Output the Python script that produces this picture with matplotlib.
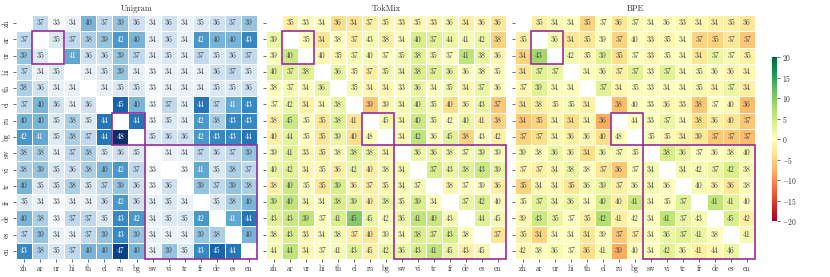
import numpy as np
import matplotlib
matplotlib.use("Agg")
import matplotlib.pyplot as plt
import seaborn as sns
from matplotlib.patches import Rectangle

plt.rcParams['font.family'] = 'serif'
plt.rcParams['font.serif'] = ['cmr10', 'DejaVu Serif']
plt.rcParams['mathtext.fontset'] = 'cm'
plt.rcParams['axes.formatter.use_mathtext'] = True

langs = ["zh", "ar", "ur", "hi", "th", "el", "ru", "bg", "sw", "vi", "tr", "fr", "de", "es", "en"]

unigram = [
    [None, 37, 33, 34, 40, 37, 39, 36, 34, 36, 34, 35, 36, 37, 39],
    [37, None, 35, 37, 38, 39, 42, 40, 34, 36, 34, 42, 40, 40, 43],
    [39, 35, None, 41, 36, 36, 39, 37, 34, 35, 34, 37, 35, 36, 37],
    [37, 34, 35, None, 34, 35, 39, 34, 33, 34, 34, 34, 36, 37, 35],
    [38, 36, 34, 34, None, 34, 35, 35, 33, 34, 34, 34, 35, 35, 36],
    [37, 40, 36, 34, 36, None, 45, 40, 33, 37, 34, 44, 37, 41, 43],
    [40, 40, 35, 38, 35, 44, None, 44, 33, 35, 34, 42, 38, 43, 43],
    [42, 41, 35, 38, 37, 44, 48, None, 35, 36, 36, 42, 43, 43, 44],
    [38, 38, 34, 37, 38, 35, 36, 35, None, 34, 34, 37, 36, 37, 39],
    [38, 39, 35, 36, 38, 40, 42, 37, 33, None, 33, 41, 35, 38, 37],
    [40, 35, 35, 38, 35, 37, 39, 36, 33, 36, None, 39, 37, 39, 38],
    [35, 34, 33, 34, 34, 36, 42, 36, 34, 35, 34, None, 35, 38, 40],
    [40, 38, 33, 37, 37, 35, 43, 42, 34, 35, 35, 42, None, 41, 44],
    [37, 39, 34, 34, 37, 39, 43, 39, 34, 34, 34, 39, 38, None, 40],
    [43, 38, 35, 37, 40, 40, 47, 40, 34, 39, 35, 43, 45, 44, None],
]

tokmix = [
    [None, 35, 33, 34, 36, 34, 37, 35, 33, 35, 33, 36, 34, 36, 36],
    [39, None, 35, 34, 38, 37, 43, 38, 34, 40, 37, 44, 41, 42, 38],
    [39, 40, None, 40, 35, 37, 40, 37, 35, 38, 35, 37, 41, 38, 36],
    [40, 37, 38, None, 36, 35, 37, 35, 34, 38, 37, 36, 36, 38, 35],
    [38, 37, 34, 36, None, 35, 34, 34, 33, 36, 34, 35, 34, 37, 36],
    [37, 42, 34, 34, 38, None, 39, 39, 34, 40, 35, 40, 36, 43, 37],
    [38, 45, 35, 35, 38, 41, None, 45, 34, 40, 35, 42, 40, 41, 38],
    [40, 44, 35, 35, 39, 40, 48, None, 34, 42, 36, 45, 38, 43, 42],
    [39, 41, 33, 35, 38, 38, 38, 34, None, 36, 36, 38, 37, 39, 39],
    [40, 42, 34, 35, 36, 42, 40, 38, 34, None, 37, 43, 38, 43, 39],
    [38, 40, 35, 35, 39, 36, 37, 35, 34, 37, None, 38, 37, 39, 36],
    [39, 40, 34, 34, 38, 39, 40, 38, 35, 39, 34, None, 37, 42, 40],
    [43, 43, 39, 37, 41, 45, 45, 42, 36, 41, 40, 43, None, 44, 45],
    [38, 43, 33, 34, 38, 37, 40, 39, 34, 38, 37, 43, 38, None, 37],
    [44, 44, 34, 37, 41, 43, 45, 42, 36, 43, 41, 45, 43, 45, None],
]

bpe = [
    [None, 35, 34, 34, 35, 37, 36, 37, 34, 36, 33, 34, 34, 35, 36],
    [35, None, 36, 34, 35, 39, 37, 40, 33, 35, 34, 37, 35, 37, 37],
    [34, 43, None, 42, 35, 39, 35, 37, 33, 35, 34, 34, 37, 37, 35],
    [34, 37, 37, None, 34, 36, 37, 37, 33, 37, 34, 35, 36, 36, 34],
    [37, 39, 34, 34, None, 37, 34, 35, 33, 34, 34, 35, 34, 37, 34],
    [34, 38, 35, 35, 34, None, 38, 40, 33, 36, 33, 38, 37, 40, 36],
    [34, 35, 34, 34, 34, 36, None, 44, 33, 37, 34, 38, 36, 40, 37],
    [37, 37, 34, 36, 36, 40, 48, None, 35, 35, 34, 39, 37, 37, 37],
    [39, 38, 36, 36, 34, 36, 37, 35, None, 38, 36, 37, 36, 38, 40],
    [37, 37, 34, 38, 38, 37, 36, 37, 34, None, 34, 42, 37, 42, 38],
    [35, 34, 34, 35, 36, 39, 37, 36, 34, 36, None, 40, 36, 36, 38],
    [35, 37, 34, 36, 34, 40, 40, 41, 34, 35, 37, None, 41, 41, 40],
    [39, 43, 35, 37, 35, 42, 41, 42, 34, 41, 37, 43, None, 45, 42],
    [35, 34, 34, 34, 34, 39, 37, 37, 34, 36, 37, 41, 38, None, 41],
    [42, 38, 36, 37, 36, 41, 39, 40, 34, 42, 36, 41, 44, 46, None],
]

boxes = [(1, 2), (6, 2), (8, 7)]  # (start index, size)

uni = np.array(unigram, dtype=float)
tok = np.array(tokmix, dtype=float)
bp = np.array(bpe, dtype=float)
mask = np.isnan(uni)

fig = plt.figure(figsize=(8.3, 2.77), dpi=100)
ax1 = fig.add_axes([16 / 830, 1 - 259 / 277, 241 / 830, 244 / 277])
ax2 = fig.add_axes([266 / 830, 1 - 259 / 277, 240 / 830, 244 / 277])
ax3 = fig.add_axes([515 / 830, 1 - 259 / 277, 240 / 830, 244 / 277])
cax = fig.add_axes([772 / 830, 1 - 221 / 277, 5 / 830, 164 / 277])

kw = dict(mask=mask, fmt=".0f", linewidths=0.4, linecolor="white",
          annot_kws={"fontsize": 5.5}, xticklabels=langs, yticklabels=langs)

sns.heatmap(uni, ax=ax1, cmap="Blues", annot=uni, cbar=False, **kw)
sns.heatmap(tok - uni, ax=ax2, cmap="RdYlGn", vmin=-20, vmax=20, annot=tok,
            cbar=False, **kw)
sns.heatmap(bp - uni, ax=ax3, cmap="RdYlGn", vmin=-20, vmax=20, annot=bp,
            cbar=True, cbar_ax=cax, **kw)

for ax, title in zip([ax1, ax2, ax3], ["Unigram", "TokMix", "BPE"]):
    ax.set_title(title, fontsize=6, pad=3, color="#333333")
    ax.tick_params(length=2.5, width=0.5, pad=1.5, labelsize=5.5,
                   colors="#333333")
    ax.set_xticklabels(langs, rotation=0)
    # soften dark annotation text
    for t in ax.texts:
        if t.get_color() != "w":
            t.set_color("#444444")
    for start, size in boxes:
        ax.add_patch(Rectangle((start, start), size, size, fill=False,
                               edgecolor="#962d99", lw=1.2, clip_on=False))
ax1.set_yticklabels(langs, rotation=90, va="center")
ax2.set_yticklabels([])
ax3.set_yticklabels([])

cax.tick_params(labelsize=5.5, length=2, width=0.5, pad=1.5, colors="#333333")
cax.set_yticks([-20, -15, -10, -5, 0, 5, 10, 15, 20])

fig.savefig("out.png", dpi=100)
